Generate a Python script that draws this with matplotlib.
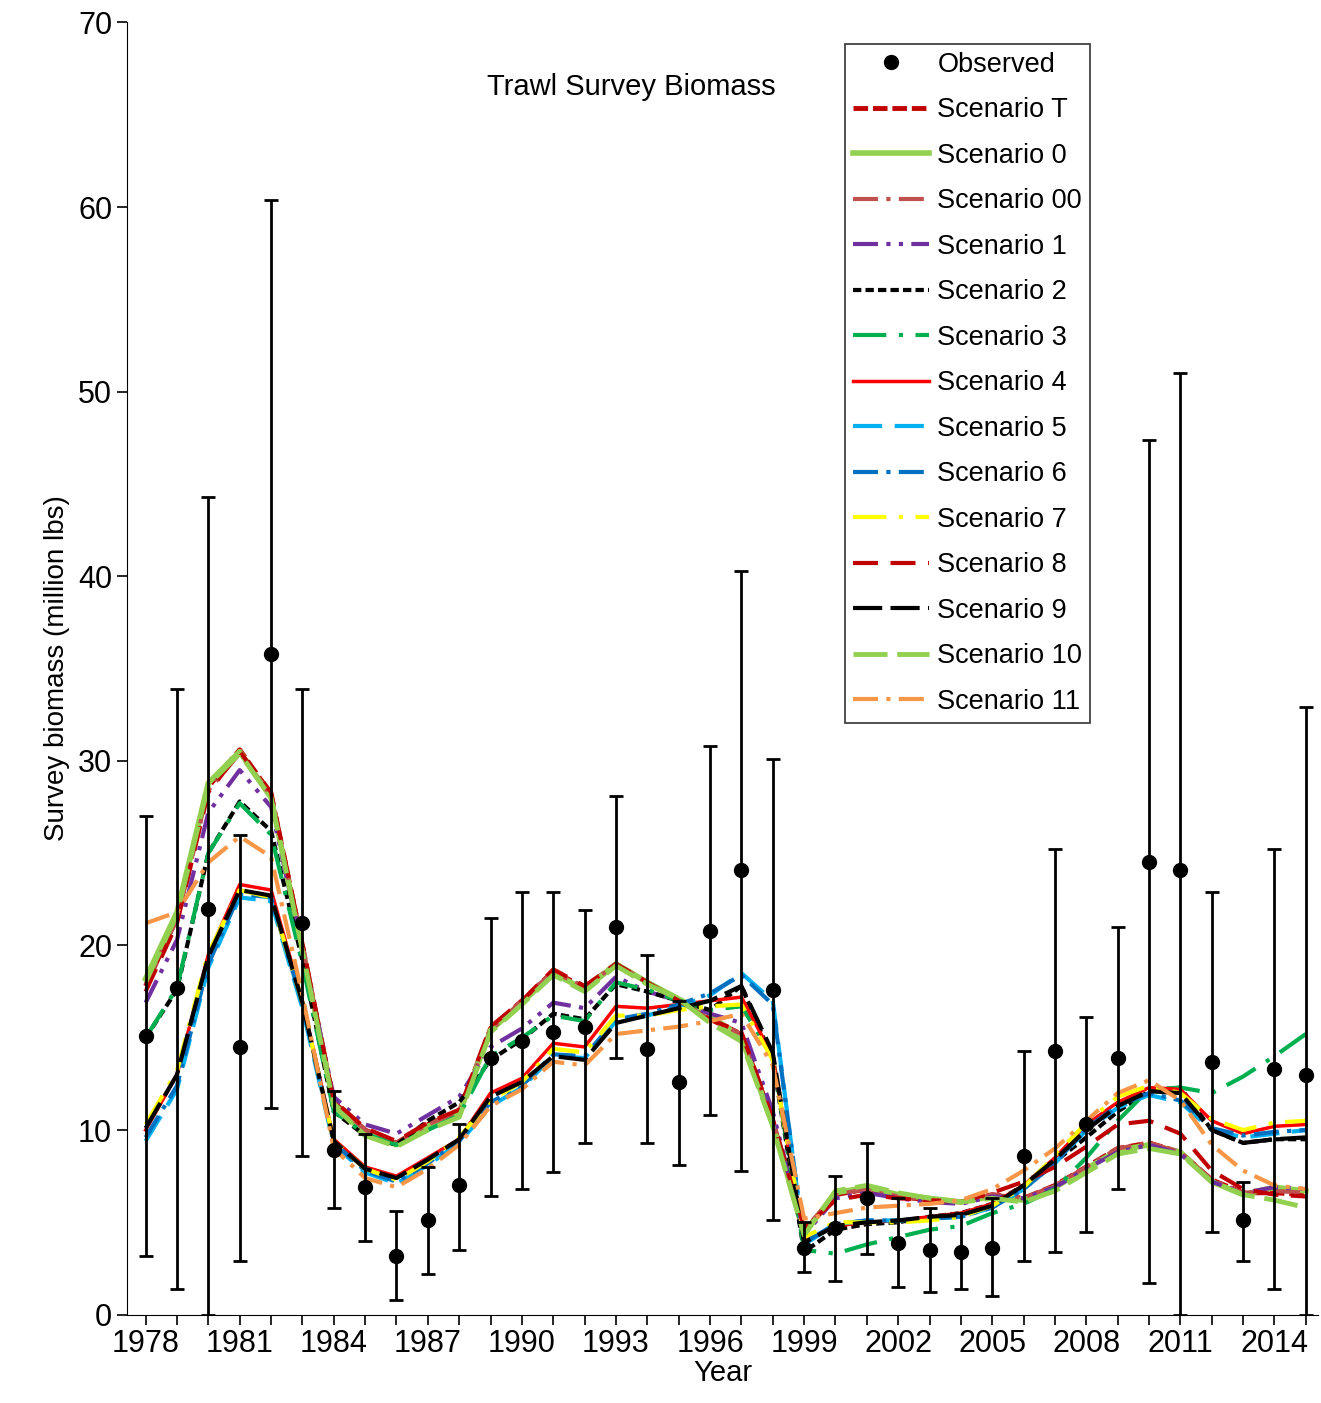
import numpy as np
import matplotlib.pyplot as plt
from matplotlib.lines import Line2D

plt.rcParams['font.family'] = ['Liberation Sans', 'DejaVu Sans']

years = list(range(1978, 2016))

obs = [15.1, 17.7, 22.0, 14.5, 35.8, 21.2, 8.9, 6.9, 3.2, 5.1, 7.0, 13.9, 14.8, 15.3, 15.6, 21.0, 14.4, 12.6, 20.8, 24.1,
       17.6, 3.6, 4.7, 6.3, 3.9, 3.5, 3.4, 3.6, 8.6, 14.3, 10.3, 13.9, 24.5, 24.1, 13.7, 5.1, 13.3, 13.0]
obs_hi = [27.0, 33.9, 44.3, 26.0, 60.4, 33.9, 12.1, 9.8, 5.6, 8.0, 10.3, 21.5, 22.9, 22.9, 21.9, 28.1, 19.5, 17.0, 30.8, 40.3,
          30.1, 5.0, 7.5, 9.3, 6.3, 5.8, 5.5, 6.3, 14.3, 25.2, 16.1, 21.0, 47.4, 51.0, 22.9, 7.2, 25.2, 32.9]
obs_lo = [3.2, 1.4, 0.0, 2.9, 11.2, 8.6, 5.8, 4.0, 0.8, 2.2, 3.5, 6.4, 6.8, 7.7, 9.3, 13.9, 9.3, 8.1, 10.8, 7.8,
          5.1, 2.3, 1.8, 3.3, 1.5, 1.2, 1.4, 1.0, 2.9, 3.4, 4.5, 6.8, 1.7, 0.0, 4.5, 2.9, 1.4, 0.0]

scen_T = [17.8, 21.5, 28.6, 30.6, 28.2, 20.0, 11.5, 10.0, 9.3, 10.3, 11.0, 15.5, 17.0, 18.6, 17.7, 19.0, 18.0, 17.0, 16.0, 15.2,
          10.5, 4.5, 6.5, 6.8, 6.4, 6.2, 6.1, 6.5, 6.3, 7.0, 8.0, 9.0, 9.3, 8.8, 7.3, 6.6, 6.6, 6.5]
scen_0 = [18.2, 21.8, 28.8, 30.5, 28.0, 19.8, 11.4, 9.8, 9.2, 10.2, 10.9, 15.4, 16.9, 18.5, 17.6, 19.0, 18.0, 17.1, 16.2, 15.0,
          10.3, 4.4, 6.6, 6.9, 6.5, 6.3, 6.1, 6.4, 6.2, 6.9, 7.9, 8.9, 9.2, 8.8, 7.2, 6.5, 6.9, 6.7]
scen_00 = [17.9, 21.4, 28.4, 30.4, 28.1, 20.0, 11.5, 10.0, 9.3, 10.3, 11.0, 15.4, 17.0, 18.6, 17.7, 19.0, 18.0, 17.0, 16.0, 15.2,
           10.5, 4.6, 6.5, 6.8, 6.4, 6.2, 6.1, 6.5, 6.3, 7.0, 8.0, 9.0, 9.3, 8.8, 7.3, 6.6, 6.7, 6.6]
scen_1 = [16.9, 20.3, 27.2, 29.5, 27.5, 19.8, 11.8, 10.3, 9.8, 10.8, 11.8, 14.5, 15.5, 16.9, 16.6, 18.3, 17.5, 17.0, 16.3, 15.8,
          11.0, 4.3, 6.3, 6.6, 6.3, 6.1, 6.0, 6.4, 6.3, 6.9, 7.9, 8.8, 9.2, 8.7, 7.2, 6.6, 6.9, 6.8]
scen_2 = [15.0, 17.6, 25.0, 27.8, 26.2, 19.2, 11.0, 9.7, 9.2, 10.5, 11.5, 13.8, 14.9, 16.3, 16.0, 17.9, 17.5, 17.0, 16.5, 17.8,
          13.8, 3.4, 4.6, 4.9, 5.0, 5.3, 5.5, 6.0, 7.0, 8.3, 9.6, 11.0, 12.1, 12.3, 10.0, 9.3, 9.5, 9.5]
scen_3 = [15.0, 17.7, 25.0, 27.7, 26.0, 19.0, 11.0, 9.8, 9.2, 10.0, 10.8, 14.0, 15.0, 16.2, 15.9, 18.0, 17.6, 17.0, 16.5, 16.7,
          14.0, 3.5, 3.3, 3.8, 4.2, 4.6, 4.8, 5.5, 6.0, 6.8, 8.5, 10.5, 12.2, 12.3, 12.0, 12.9, 14.0, 15.2]
scen_4 = [10.0, 13.0, 19.5, 23.3, 23.0, 17.0, 9.5, 8.0, 7.5, 8.5, 9.5, 12.0, 12.8, 14.7, 14.5, 16.7, 16.6, 16.8, 17.0, 17.2,
          14.0, 4.0, 4.8, 5.0, 5.1, 5.3, 5.5, 6.0, 7.0, 8.5, 10.3, 11.5, 12.3, 12.2, 10.5, 9.8, 10.2, 10.3]
scen_5 = [9.4, 12.2, 18.8, 22.6, 22.4, 16.6, 9.2, 7.7, 7.1, 8.1, 9.3, 11.3, 12.3, 14.0, 13.9, 15.9, 16.2, 16.7, 17.3, 18.5,
          17.0, 3.8, 4.9, 5.1, 5.1, 5.2, 5.3, 5.8, 6.8, 8.2, 10.0, 11.2, 11.9, 11.5, 10.0, 9.6, 9.8, 10.0]
scen_6 = [9.6, 12.4, 19.0, 22.8, 22.6, 16.8, 9.3, 7.8, 7.2, 8.2, 9.4, 11.5, 12.4, 14.1, 14.0, 16.0, 16.3, 16.8, 17.4, 18.4,
          16.8, 3.9, 4.9, 5.1, 5.1, 5.2, 5.3, 5.8, 6.8, 8.2, 10.1, 11.3, 12.0, 11.6, 10.1, 9.7, 9.9, 10.0]
scen_7 = [10.3, 13.2, 19.6, 23.0, 22.6, 16.9, 9.4, 7.9, 7.3, 8.3, 9.6, 11.6, 12.6, 14.4, 14.2, 16.2, 16.2, 16.5, 16.7, 16.8,
          13.8, 4.2, 5.0, 5.0, 5.0, 5.1, 5.3, 5.9, 6.9, 8.6, 10.4, 11.8, 12.4, 12.0, 10.6, 10.0, 10.4, 10.5]
scen_8 = [17.5, 21.2, 28.3, 30.5, 28.3, 20.1, 11.6, 10.1, 9.4, 10.4, 11.1, 15.6, 17.0, 18.7, 17.8, 19.0, 18.0, 17.0, 16.0, 15.3,
          10.6, 4.7, 6.2, 6.5, 6.3, 6.2, 6.1, 6.6, 7.2, 8.0, 9.1, 10.3, 10.5, 9.8, 7.8, 6.8, 6.5, 6.4]
scen_9 = [10.1, 13.0, 19.4, 23.0, 22.7, 16.9, 9.4, 7.9, 7.4, 8.4, 9.5, 11.8, 12.6, 14.0, 13.8, 15.8, 16.2, 16.6, 17.0, 17.8,
          14.2, 3.9, 4.8, 5.0, 5.1, 5.3, 5.4, 5.9, 7.0, 8.4, 10.0, 11.3, 12.1, 12.0, 10.0, 9.3, 9.5, 9.6]
scen_10 = [18.0, 21.7, 28.7, 30.4, 28.0, 19.7, 11.3, 9.7, 9.1, 10.0, 10.7, 15.3, 16.8, 18.4, 17.5, 18.9, 17.9, 17.1, 15.8, 14.8,
           10.2, 4.3, 6.7, 7.0, 6.6, 6.3, 6.1, 6.3, 6.1, 6.7, 7.7, 8.7, 9.0, 8.7, 7.2, 6.5, 6.2, 5.8]
scen_11 = [21.2, 21.8, 24.5, 25.9, 24.8, 17.3, 9.0, 7.4, 6.9, 7.9, 9.2, 11.3, 12.2, 13.7, 13.5, 15.2, 15.4, 15.6, 15.9, 16.3,
           13.5, 5.2, 5.5, 5.8, 5.9, 6.0, 6.2, 6.8, 7.8, 9.0, 10.5, 12.0, 12.7, 11.6, 9.2, 7.8, 7.0, 6.8]

series = [
    ('Scenario T', scen_T, '#C00000', (0, (3, 1)), 3.5),
    ('Scenario 0', scen_0, '#92D050', '-', 4),
    ('Scenario 00', scen_00, '#C0504D', (0, (6, 2, 1, 2)), 3),
    ('Scenario 1', scen_1, '#7030A0', (0, (6, 2, 1, 2, 1, 2)), 3),
    ('Scenario 2', scen_2, '#000000', (0, (2, 1)), 3),
    ('Scenario 3', scen_3, '#00B050', (0, (8, 3, 1, 3)), 3),
    ('Scenario 4', scen_4, '#FF0000', '-', 2.5),
    ('Scenario 5', scen_5, '#00B0F0', (0, (7, 3)), 3),
    ('Scenario 6', scen_6, '#0070C0', (0, (6, 2, 1, 2)), 3),
    ('Scenario 7', scen_7, '#FFFF00', (0, (8, 3, 1, 3)), 3),
    ('Scenario 8', scen_8, '#C00000', (0, (6, 3)), 3),
    ('Scenario 9', scen_9, '#000000', (0, (7, 2)), 3),
    ('Scenario 10', scen_10, '#92D050', (0, (7, 2)), 3.5),
    ('Scenario 11', scen_11, '#F79646', (0, (6, 2, 1, 2)), 3),
]

fig = plt.figure(figsize=(13.21, 14.03), dpi=100)
ax = fig.add_axes([0.096, 0.063, 0.902, 0.921])

ax.errorbar(years, obs, yerr=[np.array(obs) - np.array(obs_lo), np.array(obs_hi) - np.array(obs)],
            fmt='o', color='black', ms=10, elinewidth=2, capsize=5, capthick=2, zorder=5)
handles = [Line2D([], [], ls='none', marker='o', color='black', ms=10)]
labels = ['Observed']
for name, vals, col, ls, lw in series:
    h, = ax.plot(years, vals, color=col, ls=ls, lw=lw)
    handles.append(h)
    labels.append(name)

ax.set_xlim(1977.4, 2015.4)
ax.set_ylim(0, 70)
ax.set_xticks(years, minor=True)
ax.set_xticks(list(range(1978, 2016, 3)))
ax.set_yticks(range(0, 71, 10))
ax.tick_params(axis='both', which='major', labelsize=22, direction='out', length=7, width=1.2)
ax.tick_params(axis='x', which='minor', direction='out', length=7, width=1.2)
for s in ['top', 'right']:
    ax.spines[s].set_visible(False)
ax.set_xlabel('Year', fontsize=21, labelpad=0)
ax.set_ylabel('Survey biomass (million lbs)', fontsize=20, labelpad=6)
ax.text(1993.5, 66.5, 'Trawl Survey Biomass', fontsize=21, ha='center', va='center')

leg = ax.legend(handles, labels, loc='upper right', bbox_to_anchor=(0.82, 0.994), fontsize=19.5, fancybox=False,
                edgecolor='black', handlelength=2.8, handletextpad=0.3, labelspacing=0.72, borderpad=0.3)
leg.get_frame().set_linewidth(1.2)

fig.savefig('out.png')
